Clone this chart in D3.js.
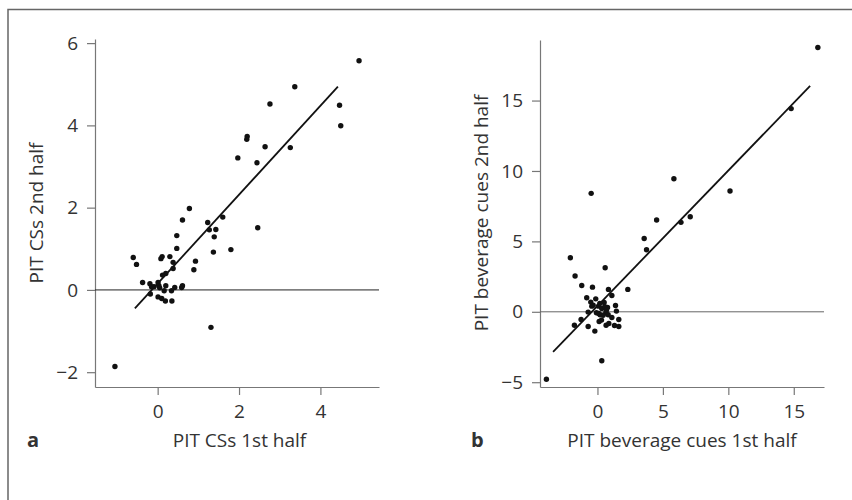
<!DOCTYPE html>
<html lang="en">
<head>
    <meta charset="UTF-8">
    <title>PIT scatter</title>
    <style>
        body { margin: 0; background: #fff; }
        svg { display: block; }
        text { font-family: "Open Sans", "Noto Sans", sans-serif; fill: #333; }
    </style>
    <script src="https://d3js.org/d3.v7.min.js"></script>
</head>
<body>
    <script>
        // panel a: PIT CSs, 1st half vs 2nd half
        const csX = [4.95, 3.37, 2.76, 4.47, 4.50, 2.20, 2.19, 2.64, 3.26, 1.97, 2.44, 0.78, 0.61, 1.60, 1.23,
            2.46, 1.43, 1.27, 1.39, 0.47, 0.47, 1.80, 1.37, -0.60, 0.08, 0.11, 0.30, 0.93, 0.38, -0.52,
            0.38, 0.89, 0.20, 0.12, -0.37, -0.19, 0.01, 0.03, -0.09, 0.20, 0.42, 0.61, 0.59, 0.16, 0.34,
            -0.18, 0.01, 0.10, 0.19, 0.35, 1.31, -1.05, -0.15, 0.05]
        const csY = [5.57, 4.94, 4.52, 4.49, 3.99, 3.73, 3.66, 3.48, 3.46, 3.21, 3.09, 1.98, 1.70, 1.77, 1.64,
            1.51, 1.47, 1.46, 1.29, 1.32, 1.01, 0.98, 0.92, 0.79, 0.76, 0.81, 0.81, 0.70, 0.67, 0.62,
            0.52, 0.49, 0.40, 0.36, 0.18, 0.15, 0.18, 0.10, 0.08, 0.10, 0.06, 0.10, 0.06, -0.02, -0.02,
            -0.10, -0.17, -0.21, -0.27, -0.27, -0.91, -1.86, 0.08, 0.05]
        const csFit = [[-0.56, -0.45], [4.43, 4.94]]
        const csXTicks = [0, 2, 4]
        const csYTicks = [-2, 0, 2, 4, 6]

        // panel b: PIT beverage cues, 1st half vs 2nd half
        const bevX = [16.84, 14.80, 5.84, -0.48, 10.13, 7.09, 4.52, 6.38, 3.57, 3.75, -2.07, 0.59, -1.71, -1.20,
            -0.38, 0.84, 2.32, 1.10, -0.82, -0.13, -0.51, 0.51, 1.38, -0.43, 0.08, 0.77, 0.33, -0.71,
            1.45, -0.08, 0.64, 0.20, 0.82, -1.25, 1.10, 1.63, 0.13, -1.76, -0.71, 0.66, 0.87, 1.30,
            1.63, -0.20, 0.33, -3.90, -0.33, 0.18, 0.43, 0.10, 0.56, 0.69, 0.31]
        const bevY = [18.77, 14.43, 9.45, 8.41, 8.58, 6.75, 6.52, 6.35, 5.21, 4.41, 3.84, 3.13, 2.54, 1.87,
            1.75, 1.59, 1.59, 1.16, 1.00, 0.92, 0.69, 0.66, 0.45, 0.40, 0.40, 0.31, 0.24, -0.02,
            0.05, -0.07, -0.07, -0.21, -0.21, -0.55, -0.40, -0.55, -0.69, -0.95, -1.04, -0.95, -0.83, -0.97,
            -1.04, -1.37, -3.48, -4.79, 0.47, 0.59, -0.24, -0.12, 0.36, 0.12, -0.59]
        const bevFit = [[-3.39, -2.84], [16.25, 16.04]]
        const bevXTicks = [0, 5, 10, 15]
        const bevYTicks = [-5, 0, 5, 10, 15]

        const width = 852
        const height = 500
        const fontSize = 19

        const svg = d3.select('body').append('svg').attr('width', width).attr('height', height)

        // frame
        svg.append('path')
            .attr('d', 'M8,500 V9.5 H852')
            .attr('fill', 'none')
            .attr('stroke', '#666')
            .attr('stroke-width', 1.5)

        function panel(opt) {
            const xs = d3.scaleLinear().domain(opt.xDomain).range(opt.xRange)
            const ys = d3.scaleLinear().domain(opt.yDomain).range(opt.yRange)
            const g = svg.append('g')
            const fmt = d => d < 0 ? '\u2212' + Math.abs(d) : d

            const xAxis = g.append('g')
                .attr('transform', `translate(0, ${opt.yRange[0]})`)
                .call(d3.axisBottom(xs).tickValues(opt.xTicks).tickSize(8).tickPadding(10).tickSizeOuter(0).tickFormat(fmt))
            const yAxis = g.append('g')
                .attr('transform', `translate(${opt.xRange[0]}, 0)`)
                .call(d3.axisLeft(ys).tickValues(opt.yTicks).tickSize(8).tickPadding(9).tickSizeOuter(0).tickFormat(fmt))
            ;[xAxis, yAxis].forEach(a => {
                a.selectAll('path, line').attr('stroke', '#777').attr('stroke-width', 1.2)
                a.selectAll('text').attr('font-size', fontSize).attr('fill', '#333')
                    .attr('font-family', '"Open Sans", sans-serif')
            })

            // zero line
            g.append('line')
                .attr('x1', opt.xRange[0]).attr('x2', opt.xRange[1])
                .attr('y1', ys(0)).attr('y2', ys(0))
                .attr('stroke', opt.zeroColor).attr('stroke-width', 1)

            // regression line
            g.append('line')
                .attr('x1', xs(opt.fit[0][0])).attr('y1', ys(opt.fit[0][1]))
                .attr('x2', xs(opt.fit[1][0])).attr('y2', ys(opt.fit[1][1]))
                .attr('stroke', '#111').attr('stroke-width', 1.8)

            g.append('g').selectAll('circle')
                .data(opt.x.map((d, i) => [d, opt.y[i]]))
                .enter()
                .append('circle')
                .attr('cx', d => xs(d[0]))
                .attr('cy', d => ys(d[1]))
                .attr('r', 2.7)
                .attr('fill', '#111')

            g.append('text')
                .attr('x', opt.xLabelX)
                .attr('y', 447)
                .attr('text-anchor', 'middle')
                .attr('font-size', fontSize)
                .text(opt.xLabel)

            g.append('text')
                .attr('transform', `translate(${opt.yLabelX}, 213) rotate(-90)`)
                .attr('text-anchor', 'middle')
                .attr('font-size', fontSize)
                .text(opt.yLabel)

            g.append('text')
                .attr('x', opt.letterX)
                .attr('y', 447)
                .attr('font-size', 20)
                .attr('font-weight', 'bold')
                .attr('fill', '#222')
                .text(opt.letter)
        }

        panel({
            x: csX, y: csY, fit: csFit,
            xDomain: [-1.54, 5.44], yDomain: [-2.36, 6.10],
            xRange: [95, 379], yRange: [387, 39],
            xTicks: csXTicks, yTicks: csYTicks,
            xLabel: 'PIT CSs 1st half', yLabel: 'PIT CSs 2nd half',
            xLabelX: 239.5, yLabelX: 43, letter: 'a', letterX: 27, zeroColor: '#222'
        })

        panel({
            x: bevX, y: bevY, fit: bevFit,
            xDomain: [-4.39, 17.31], yDomain: [-5.34, 19.3],
            xRange: [540, 824], yRange: [387, 40],
            xTicks: bevXTicks, yTicks: bevYTicks,
            xLabel: 'PIT beverage cues 1st half', yLabel: 'PIT beverage cues 2nd half',
            xLabelX: 682, yLabelX: 488, letter: 'b', letterX: 471, zeroColor: '#666'
        })
    </script>
</body>
</html>
